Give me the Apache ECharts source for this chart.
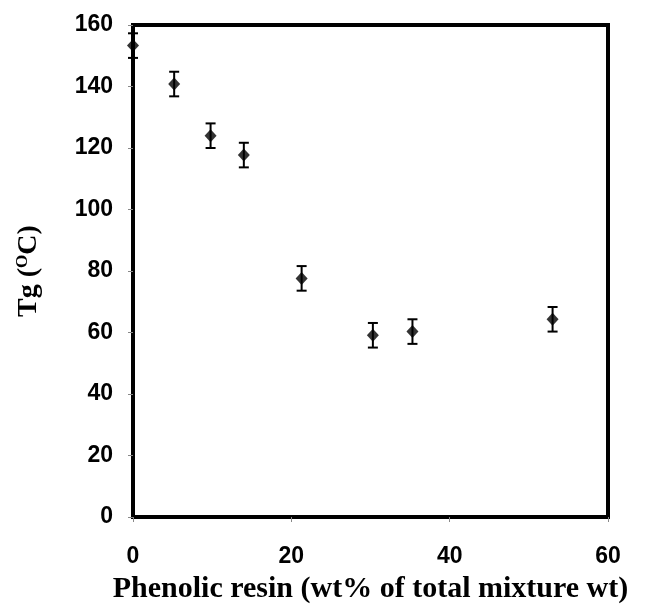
<!DOCTYPE html>
<html>
<head>
<meta charset="utf-8">
<script src="https://cdn.jsdelivr.net/npm/echarts@6/dist/echarts.min.js"></script>
<style>
  html, body { margin: 0; padding: 0; background: #fff; }
  #main { width: 651px; height: 610px; }
</style>
</head>
<body>
<div id="main"></div>
<script>
// values
var resin = [0, 5.2, 9.8, 14.0, 21.3, 30.3, 35.3, 53.0];
var tg = [153.3, 140.8, 124.0, 117.7, 77.6, 59.1, 60.3, 64.3];
var tgErr = [4, 4, 4, 4, 4, 4, 4, 4];

var points = resin.map(function (x, i) { return [x, tg[i]]; });
var bars = resin.map(function (x, i) { return [x, tg[i] - tgErr[i], tg[i] + tgErr[i]]; });

var dom = document.getElementById('main');
var myChart = echarts.init(dom);

var tickFont = {
    fontFamily: 'Liberation Sans, Arial, sans-serif',
    fontWeight: 'bold',
    fontSize: 23,
    color: '#000'
};

option = {
    animation: false,
    backgroundColor: '#fff',
    grid: {
        left: 133,
        right: 43,
        top: 25,
        bottom: 93,
        show: true,
        borderColor: '#000',
        borderWidth: 4,
        backgroundColor: 'transparent'
    },
    xAxis: {
        type: 'value',
        min: 0,
        max: 60,
        interval: 20,
        name: 'Phenolic resin (wt% of total mixture wt)',
        nameLocation: 'middle',
        nameGap: 57,
        nameTextStyle: {
            fontFamily: 'Liberation Serif, Times New Roman, serif',
            fontWeight: 'bold',
            fontSize: 30,
            color: '#000'
        },
        axisLine: { show: false },
        axisTick: { show: true, length: 5, lineStyle: { color: '#888', width: 1 } },
        axisLabel: Object.assign({ margin: 28 }, tickFont),
        splitLine: { show: false }
    },
    yAxis: {
        type: 'value',
        min: 0,
        max: 160,
        interval: 20,
        name: '{a|Tg (}{s|O}{a|C)}',
        nameLocation: 'middle',
        nameGap: 90,
        nameTextStyle: {
            rich: {
                a: {
                    fontFamily: 'Liberation Serif, Times New Roman, serif',
                    fontWeight: 'bold',
                    fontSize: 28,
                    color: '#000'
                },
                s: {
                    fontFamily: 'Liberation Serif, Times New Roman, serif',
                    fontWeight: 'bold',
                    fontSize: 17,
                    color: '#000',
                    verticalAlign: 'top',
                    padding: [0, 0, 12, 0]
                }
            }
        },
        axisLine: { show: false },
        axisTick: { show: true, length: 5, lineStyle: { color: '#888', width: 1 } },
        axisLabel: Object.assign({ margin: 20 }, tickFont),
        splitLine: { show: false }
    },
    series: [
        {
            type: 'custom',
            clip: false,
            z: 3,
            renderItem: function (params, api) {
                var x = api.value(0);
                var lo = api.coord([x, api.value(1)]);
                var hi = api.coord([x, api.value(2)]);
                var w = 5;
                var st = { stroke: '#000', lineWidth: 2 };
                return {
                    type: 'group',
                    children: [
                        { type: 'line', shape: { x1: lo[0], y1: lo[1], x2: hi[0], y2: hi[1] }, style: st },
                        { type: 'line', shape: { x1: lo[0] - w, y1: lo[1], x2: lo[0] + w, y2: lo[1] }, style: st },
                        { type: 'line', shape: { x1: hi[0] - w, y1: hi[1], x2: hi[0] + w, y2: hi[1] }, style: st }
                    ]
                };
            },
            encode: { x: 0, y: [1, 2] },
            data: bars
        },
        {
            type: 'scatter',
            clip: false,
            z: 4,
            symbol: 'diamond',
            symbolSize: [12, 13],
            itemStyle: { color: '#000' },
            data: points
        }
    ]
};

myChart.setOption(option);
</script>
</body>
</html>
